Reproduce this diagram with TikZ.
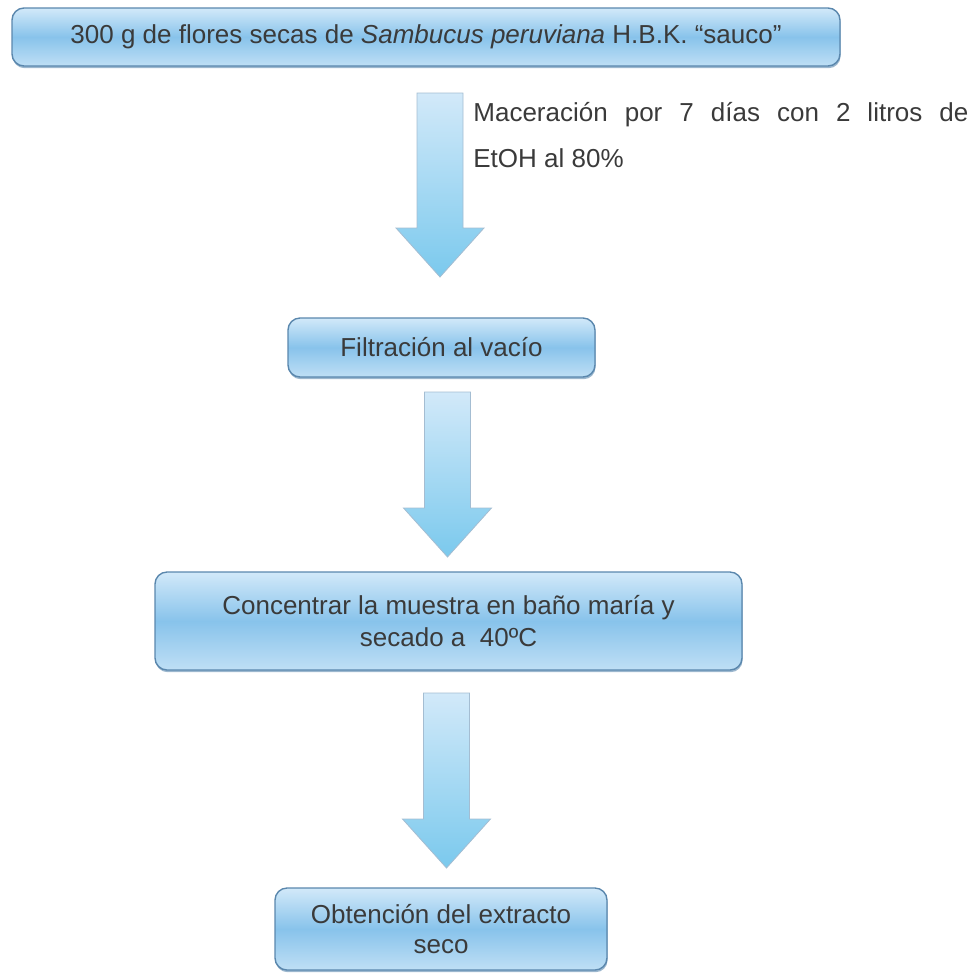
\documentclass[tikz,border=0pt]{standalone}
\usepackage{fontspec}
\setmainfont{Liberation Sans}
\usepackage{xcolor}
\definecolor{flowtop}{HTML}{D2E9F9}
\definecolor{flowmid}{HTML}{88C3EB}
\definecolor{flowbot}{HTML}{BFDFF5}
\definecolor{flowline}{HTML}{5A87AD}
\definecolor{flowtxt}{HTML}{3A3A3A}
\usetikzlibrary{calc,shadows}

\tikzset{
  stepbox/.style={draw=flowline,line width=0.7pt,rounded corners=6pt,
    top color=flowtop,bottom color=flowbot,middle color=flowmid,
    text=flowtxt,align=center,inner sep=0pt,
    font=\fontsize{13}{16}\selectfont,
    drop shadow={shadow xshift=0.3pt,shadow yshift=-1.1pt,fill=flowline,opacity=0.6}},
  arrowfill/.style={draw=flowline!55,line width=0.4pt,
    top color=flowtop,bottom color=flowmid!90!cyan,line join=miter}
}

\newcommand{\flowarrow}[2]{%
  \path[arrowfill] ($(#1)+(-23,0)$) -- ($(#1)+(23,0)$) -- ($(#2)+(23,-49)$)
    -- ($(#2)+(44,-49)$) -- (#2) -- ($(#2)+(-44,-49)$) -- ($(#2)+(-23,-49)$) -- cycle;}

\begin{document}
\begin{tikzpicture}[x=0.5pt,y=-0.5pt]
\useasboundingbox (0,0) rectangle (979,976);

\node[stepbox,minimum width=414pt,minimum height=29pt] (raw) at (426,37)
  {300 g de flores secas de \textit{Sambucus peruviana} H.B.K. “sauco”};
\node[stepbox,minimum width=153.5pt,minimum height=29.5pt] (filt) at (441.5,347.5)
  {Filtración al vacío};
\node[stepbox,minimum width=293.5pt,minimum height=49pt] (conc) at (448.5,621)
  {Concentrar la muestra en baño maría y\\secado a \ 40ºC};
\node[stepbox,minimum width=166pt,minimum height=41pt,
  font=\fontsize{13}{15}\selectfont] (extr) at (441,929)
  {Obtención del extracto\\seco};

\node[anchor=west,text width=247.5pt,align=justify,inner sep=0pt,text=flowtxt,
  font=\fontsize{13}{23}\selectfont] (macer) at (473,135)
  {Maceración por 7 días con 2 litros de\linebreak EtOH al 80\%};

\coordinate (a1top) at (440,93);   \coordinate (a1tip) at (440,277);
\coordinate (a2top) at (447.5,392); \coordinate (a2tip) at (447.5,557);
\coordinate (a3top) at (446.5,693); \coordinate (a3tip) at (446.5,868);
\flowarrow{a1top}{a1tip}
\flowarrow{a2top}{a2tip}
\flowarrow{a3top}{a3tip}
\end{tikzpicture}
\end{document}
